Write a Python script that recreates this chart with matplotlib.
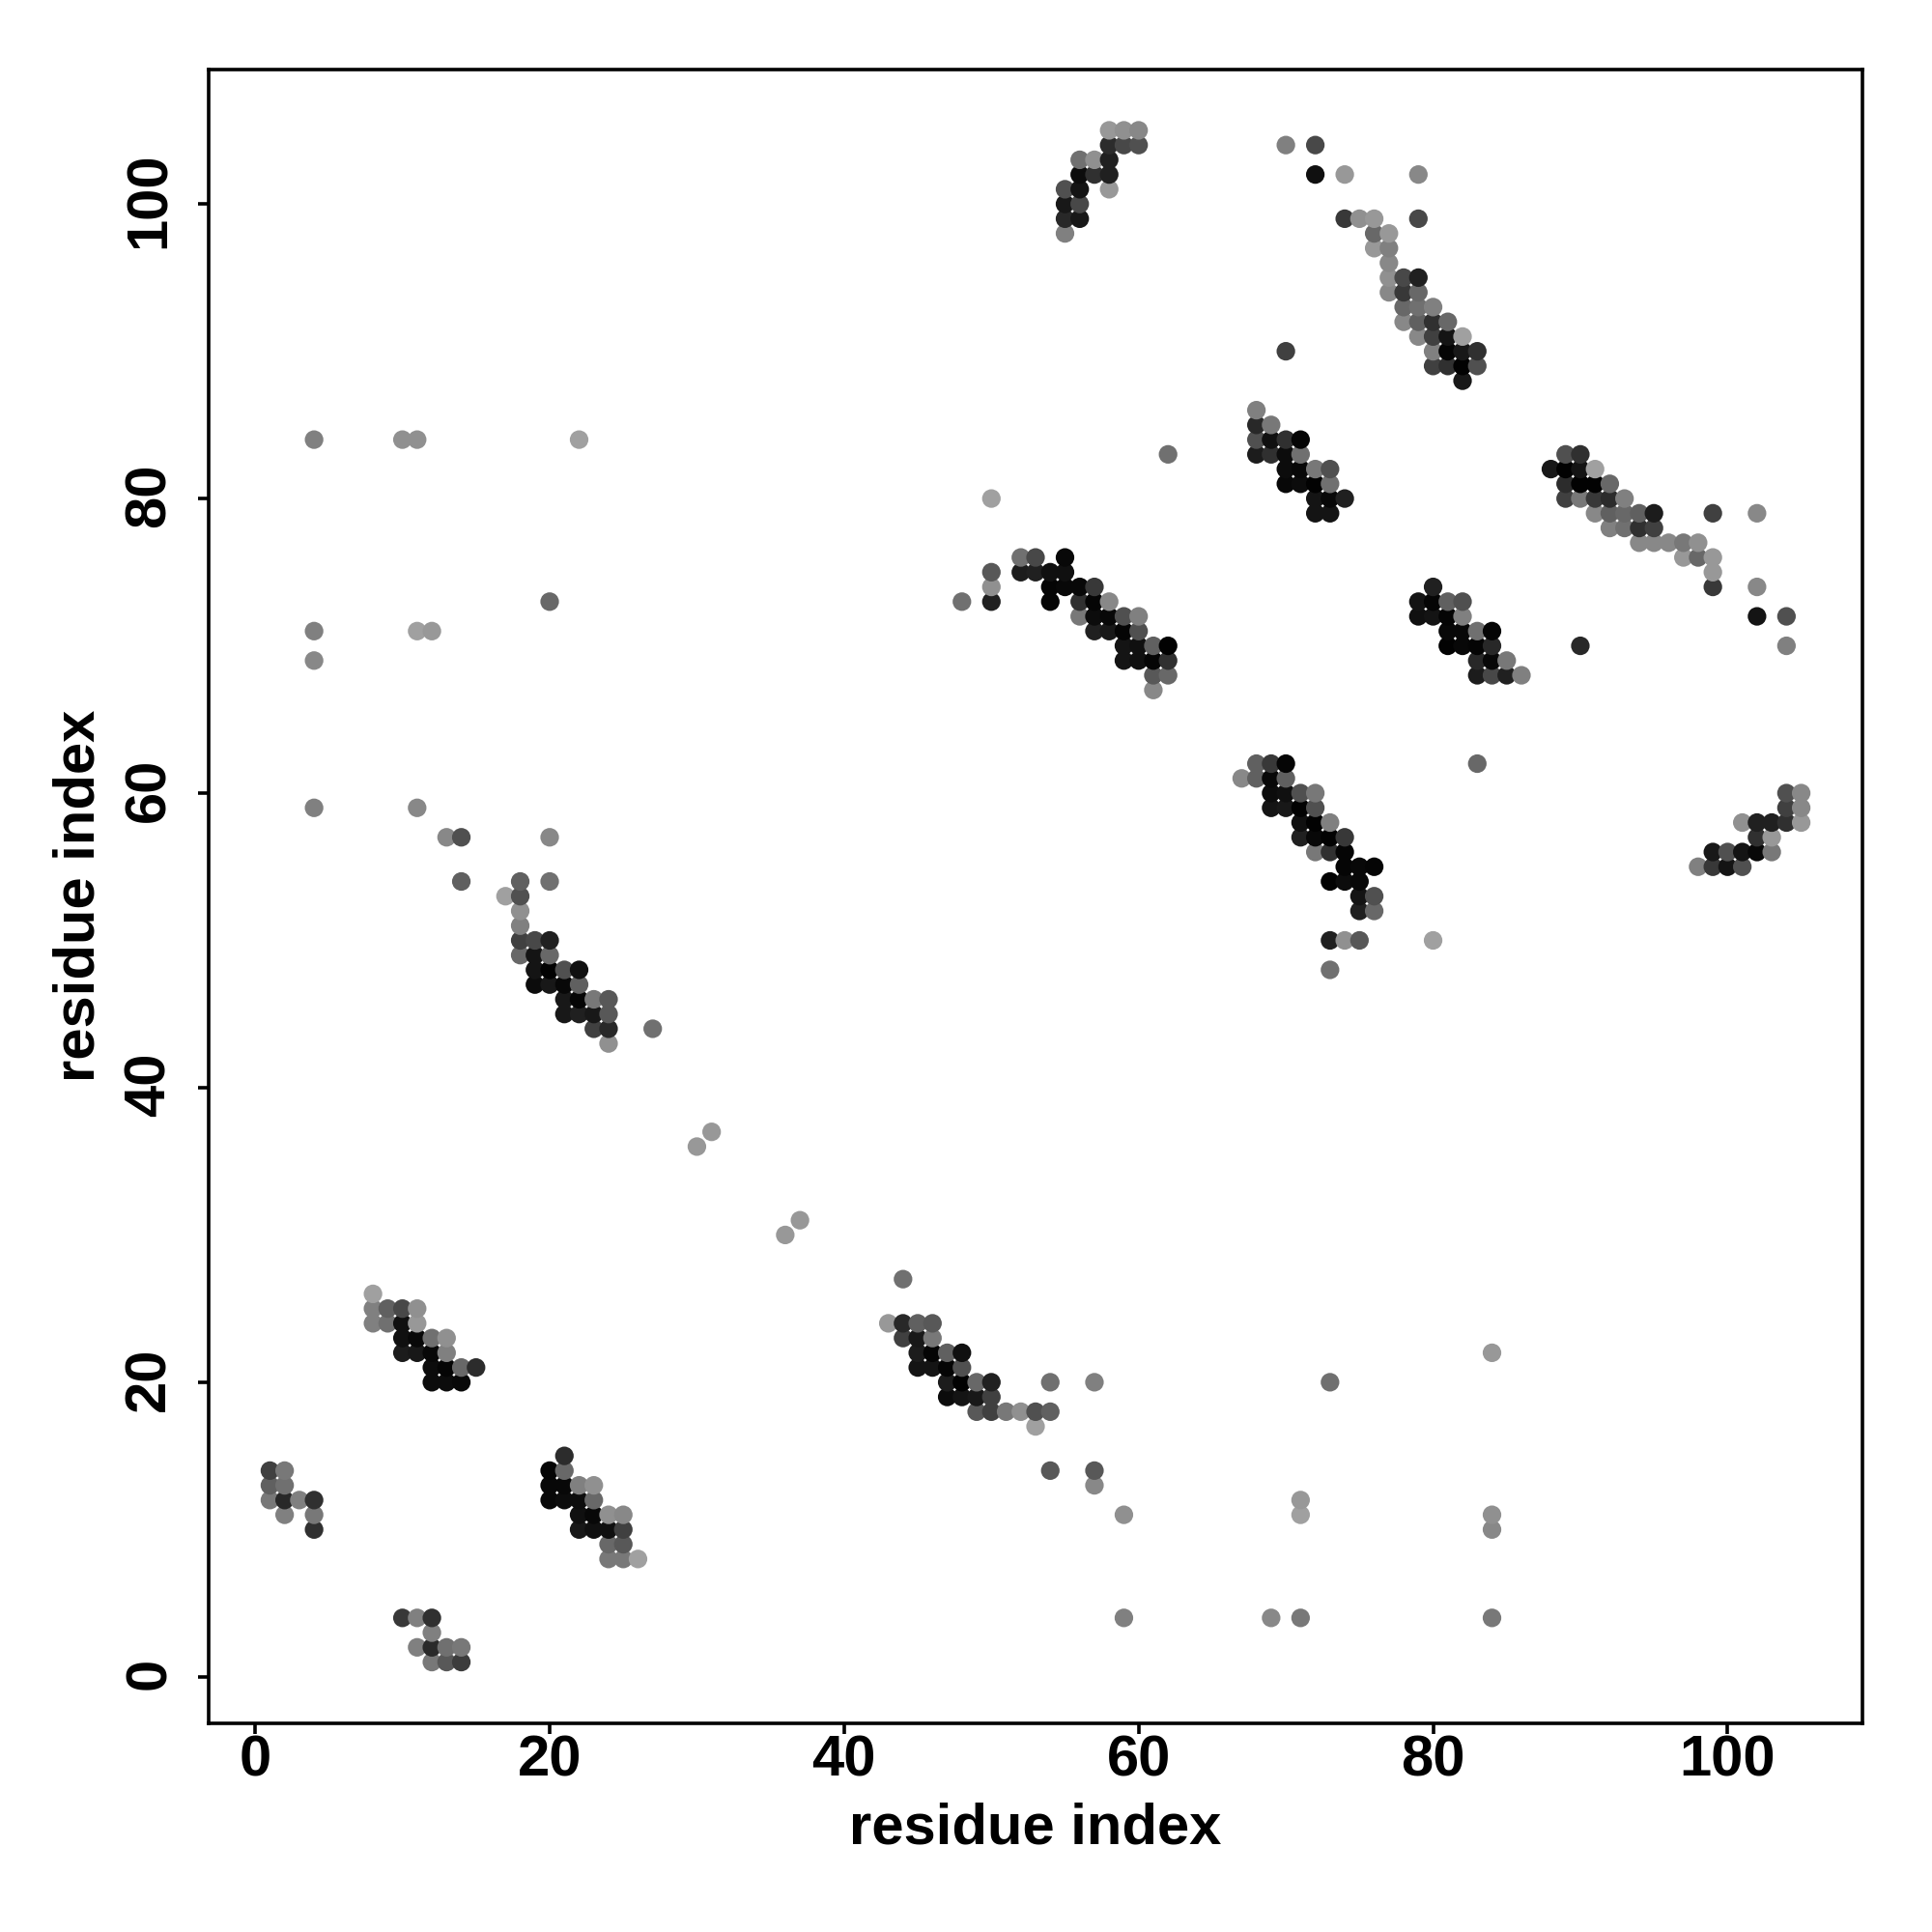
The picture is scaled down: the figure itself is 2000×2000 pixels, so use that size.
import matplotlib
matplotlib.use("Agg")
import matplotlib.pyplot as plt
from matplotlib.transforms import ScaledTranslation

plt.rcParams['font.family'] = ['Liberation Sans', 'DejaVu Sans']

axis_label = "residue index"
tick_values = [0, 20, 40, 60, 80, 100]

# (row j, [(column i, grey level), ...])
block_low = [
    (1, [(12,0x78),(13,0x58),(14,0x3c)]),
    (2, [(11,0x80),(12,0x2a),(13,0x70),(14,0x78)]),
    (3, [(12,0x80)]),
    (4, [(10,0x38),(11,0x80),(12,0x30),(59,0x80),(69,0x88),(71,0x78),(84,0x78)]),
    (8, [(24,0x78),(25,0x78),(26,0xa0)]),
    (9, [(24,0x68),(25,0x58)]),
    (10, [(4,0x30),(22,0x18),(23,0x10),(24,0x10),(25,0x40),(84,0x88)]),
    (11, [(2,0x80),(4,0x78),(22,0x10),(23,0x08),(24,0x90),(25,0x88),(59,0x90),(71,0xa0),(84,0x90)]),
    (12, [(1,0x78),(2,0x28),(3,0x80),(4,0x30),(20,0x08),(21,0x0c),(22,0x0c),(23,0x68),(71,0x98)]),
    (13, [(1,0x60),(2,0x70),(20,0x08),(21,0x08),(22,0x80),(23,0x90),(57,0x88)]),
    (14, [(1,0x40),(2,0x78),(20,0x05),(21,0x68),(54,0x58),(57,0x58)]),
    (15, [(21,0x2c)]),
    (17, [(53,0xa0)]),
    (18, [(49,0x58),(50,0x40),(51,0x78),(52,0x90),(53,0x50),(54,0x60)]),
    (19, [(47,0x0c),(48,0x14),(49,0x18),(50,0x40)]),
    (20, [(12,0x0c),(13,0x0c),(14,0x08),(47,0x1c),(48,0x02),(49,0x68),(50,0x20),(54,0x70),(57,0x80),(73,0x70)]),
    (21, [(12,0x0c),(13,0x05),(14,0x68),(15,0x2c),(45,0x14),(46,0x14),(47,0x05),(48,0x50)]),
    (22, [(10,0x1c),(11,0x18),(12,0x08),(13,0x80),(45,0x1c),(46,0x05),(47,0x60),(48,0x10),(84,0x98)]),
    (23, [(10,0x10),(11,0x08),(12,0x70),(13,0x90),(44,0x40),(45,0x18),(46,0x78)]),
    (24, [(8,0x80),(9,0x70),(10,0x10),(11,0x98),(43,0x98),(44,0x28),(45,0x60),(46,0x58)]),
    (25, [(8,0x80),(9,0x60),(10,0x48),(11,0x90)]),
    (26, [(8,0xa0)]),
    (27, [(44,0x70)]),
    (30, [(36,0x98)]),
    (31, [(37,0x98)]),
    (36, [(30,0x98)]),
    (37, [(31,0x98)]),
]

block_mid = [
    (43, [(24,0x90)]),
    (44, [(23,0x40),(24,0x28),(27,0x70)]),
    (45, [(21,0x18),(22,0x20),(23,0x18),(24,0x58)]),
    (46, [(21,0x18),(22,0x05),(23,0x78),(24,0x58)]),
    (47, [(19,0x0c),(20,0x18),(21,0x08),(22,0x60)]),
    (48, [(19,0x14),(20,0x02),(21,0x50),(22,0x10),(73,0x70)]),
    (49, [(18,0x68),(19,0x14),(20,0x68)]),
    (50, [(18,0x40),(19,0x48),(20,0x20),(73,0x20),(74,0x90),(75,0x58),(80,0xa0)]),
    (51, [(18,0x80)]),
    (52, [(18,0x90),(75,0x20),(76,0x68)]),
    (53, [(17,0xa0),(18,0x50),(75,0x14),(76,0x50)]),
    (54, [(14,0x60),(18,0x60),(20,0x70),(73,0x02),(74,0x0c),(75,0x08)]),
    (55, [(74,0x05),(75,0x08),(76,0x05),(98,0x80),(99,0x38),(100,0x14),(101,0x50)]),
    (56, [(72,0x78),(73,0x30),(74,0x05),(99,0x18),(100,0x50),(101,0x14),(102,0x08),(103,0x78)]),
    (57, [(13,0x88),(14,0x50),(20,0x88),(71,0x20),(72,0x08),(73,0x02),(74,0x38),(102,0x30),(103,0x98)]),
    (58, [(71,0x10),(72,0x02),(73,0x80),(101,0x90),(102,0x20),(103,0x20),(104,0x30),(105,0x98)]),
    (59, [(4,0x80),(11,0x88),(69,0x14),(70,0x18),(71,0x02),(72,0x50),(104,0x40),(105,0x88)]),
    (60, [(69,0x0c),(70,0x10),(71,0x50),(72,0x78),(104,0x50),(105,0x88)]),
    (61, [(67,0x88),(68,0x60),(69,0x08),(70,0x60)]),
    (62, [(68,0x60),(69,0x38),(70,0x05),(83,0x68)]),
    (67, [(61,0x88)]),
    (68, [(61,0x58),(62,0x68),(83,0x1c),(84,0x48),(85,0x20),(86,0x80)]),
    (69, [(4,0x88),(59,0x14),(60,0x10),(61,0x05),(62,0x30),(83,0x28),(84,0x08),(85,0x78)]),
    (70, [(59,0x14),(60,0x10),(61,0x60),(62,0x02),(81,0x02),(82,0x08),(83,0x05),(84,0x28),(90,0x28),(104,0x80)]),
    (71, [(4,0x80),(11,0xa0),(12,0x98),(57,0x20),(58,0x18),(59,0x05),(60,0x50),(81,0x08),(82,0x08),(83,0x70),(84,0x05)]),
    (72, [(56,0x78),(57,0x0c),(58,0x08),(59,0x50),(60,0x80),(79,0x10),(80,0x14),(81,0x05),(82,0x80),(102,0x14),(104,0x50)]),
    (73, [(20,0x68),(48,0x70),(50,0x20),(54,0x05),(56,0x30),(57,0x05),(58,0x88),(79,0x14),(80,0x05),(81,0x60),(82,0x50)]),
    (74, [(50,0x90),(54,0x05),(55,0x08),(56,0x08),(57,0x38),(80,0x20),(99,0x38),(102,0x88)]),
]

block_high = [
    (75, [(50,0x58),(52,0x1c),(53,0x20),(54,0x10),(55,0x10),(99,0x98)]),
    (76, [(52,0x70),(53,0x48),(55,0x08),(97,0x98),(98,0x68),(99,0x98)]),
    (77, [(94,0x88),(95,0x88),(96,0x88),(97,0x78),(98,0x90)]),
    (78, [(92,0x80),(93,0x70),(94,0x30),(95,0x40)]),
    (79, [(72,0x14),(73,0x14),(91,0x88),(92,0x60),(93,0x68),(94,0x60),(95,0x1c),(99,0x40),(102,0x88)]),
    (80, [(50,0xa0),(72,0x14),(73,0x08),(74,0x20),(89,0x40),(90,0x78),(91,0x38),(92,0x2c),(93,0x80)]),
    (81, [(70,0x08),(71,0x0c),(72,0x02),(73,0x70),(89,0x2c),(90,0x02),(91,0x02),(92,0x68)]),
    (82, [(70,0x0c),(71,0x08),(72,0x78),(73,0x50),(88,0x18),(89,0x02),(90,0x14),(91,0xa0)]),
    (83, [(62,0x70),(68,0x1c),(69,0x30),(70,0x0c),(71,0x70),(89,0x50),(90,0x30)]),
    (84, [(4,0x80),(10,0x90),(11,0x90),(22,0xa0),(68,0x50),(69,0x10),(70,0x30),(71,0x05)]),
    (85, [(68,0x28),(69,0x78)]),
    (86, [(68,0x80)]),
    (88, [(82,0x18)]),
    (89, [(80,0x40),(81,0x30),(82,0x02),(83,0x50)]),
    (90, [(70,0x40),(80,0x80),(81,0x05),(82,0x18),(83,0x30)]),
    (91, [(79,0x88),(80,0x40),(81,0x14),(82,0xa0)]),
    (92, [(78,0x88),(79,0x60),(80,0x30),(81,0x68)]),
    (93, [(78,0x68),(79,0x70),(80,0x80)]),
    (94, [(77,0x88),(78,0x38),(79,0x68)]),
    (95, [(77,0x90),(78,0x48),(79,0x20)]),
    (96, [(77,0x88)]),
    (97, [(76,0x98),(77,0x80)]),
    (98, [(55,0x80),(76,0x68),(77,0x98)]),
    (99, [(55,0x28),(56,0x18),(74,0x38),(75,0x90),(76,0x98),(79,0x48)]),
    (100, [(55,0x18),(56,0x48)]),
    (101, [(55,0x50),(56,0x14),(58,0x98)]),
    (102, [(56,0x0c),(57,0x30),(58,0x20),(72,0x10),(74,0x98),(79,0x88)]),
    (103, [(56,0x70),(57,0x90),(58,0x20)]),
    (104, [(58,0x2c),(59,0x48),(60,0x50),(70,0x80),(72,0x48)]),
    (105, [(58,0x98),(59,0x90),(60,0x88)]),
]

rows = block_low + block_mid + block_high
xs = [i for j, cells in rows for i, g in cells]
ys = [j for j, cells in rows for i, g in cells]
greys = [g for j, cells in rows for i, g in cells]

fig = plt.figure(figsize=(10, 10), dpi=200, facecolor='white')
ax = fig.add_axes([216/2000, 1 - 1784/2000, (1928 - 216)/2000, (1784 - 71.5)/2000])
ax.scatter(xs, ys, c=greys, cmap='gray', vmin=0, vmax=255, s=48, linewidths=0, zorder=3)
ax.set_xlim(-3.16, 109.16)
ax.set_ylim(-3.16, 109.16)
ax.set_xticks(tick_values)
ax.set_yticks(tick_values)
ax.set_xticklabels([str(t) for t in tick_values], fontsize=21.5, fontweight='bold')
ax.set_yticklabels([str(t) for t in tick_values], fontsize=21.5, fontweight='bold',
                   rotation=90, va='center')
ax.tick_params(axis='x', length=4, width=1.3, pad=0.2)
ax.tick_params(axis='y', length=4, width=1.3, pad=8.0)
nudge = ScaledTranslation(0, 1.3/72, fig.dpi_scale_trans)
for label in ax.get_yticklabels():
    label.set_transform(label.get_transform() + nudge)
for spine in ax.spines.values():
    spine.set_linewidth(1.3)
ax.set_xlabel(axis_label, fontsize=21.5, fontweight='bold', labelpad=5.3)
ax.set_ylabel(axis_label, fontsize=21.5, fontweight='bold', labelpad=6.5)
fig.savefig("out.png", dpi=200, facecolor='white')
